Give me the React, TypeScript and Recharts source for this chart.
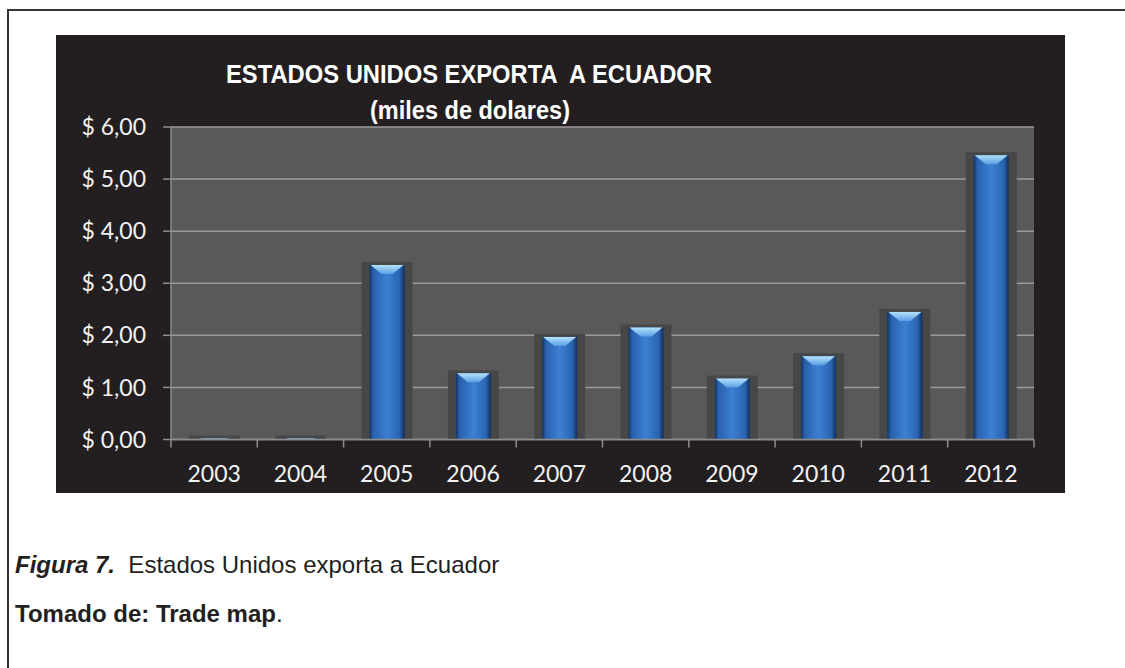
import React from 'react';
import { BarChart, Bar, XAxis, YAxis, CartesianGrid } from 'recharts';

// values (miles de dolares)
const years = ['2003', '2004', '2005', '2006', '2007', '2008', '2009', '2010', '2011', '2012'];
const exportsUS = [0.02, 0.02, 3.35, 1.27, 1.97, 2.15, 1.17, 1.6, 2.45, 5.46];
const yTicks = [0, 1, 2, 3, 4, 5, 6];

const data = years.map((year, i) => ({ year, value: exportsUS[i] }));

const AXIS = '#8e8e8e';
const LABEL_FONT = 'Lato, "Open Sans", sans-serif';

const money = (v: number) => `$ ${v.toFixed(2).replace('.', ',')}`;

// year label plus the tick mark on the left edge of its band (and the right edge for the last one)
function YearTick(props: any) {
  const { x, y, payload, visibleTicksCount } = props;
  const half = payload?.offset ?? 0;
  const last = payload?.index === visibleTicksCount - 1;
  return (
    <g>
      <line x1={x - half} x2={x - half} y1={y} y2={y + 8} stroke={AXIS} strokeWidth={1.5} />
      {last && <line x1={x + half} x2={x + half} y1={y} y2={y + 8} stroke={AXIS} strokeWidth={1.5} />}
      <text x={x} y={y + 42} textAnchor="middle" fill="#f2f2f2" fontSize={23} fontFamily={LABEL_FONT}>
        {payload?.value}
      </text>
    </g>
  );
}

function GlossyBar(props: any) {
  const { x, y, width, height, index } = props;
  if (width == null || height == null) return null;
  const bevel = Math.min(9, height);
  const g = `barGrad${index}`;
  const b = `bevelGrad${index}`;
  return (
    <g>
      <defs>
        <linearGradient id={g} x1="0" y1="0" x2="1" y2="0">
          <stop offset="0" stopColor="#113366" />
          <stop offset="0.1" stopColor="#2960ac" />
          <stop offset="0.5" stopColor="#3c80d4" />
          <stop offset="0.86" stopColor="#2a64b0" />
          <stop offset="1" stopColor="#0f2f5e" />
        </linearGradient>
        <linearGradient id={b} x1="0" y1="0" x2="0" y2="1">
          <stop offset="0" stopColor="#b4e3fc" />
          <stop offset="1" stopColor="#5a9ee3" />
        </linearGradient>
      </defs>
      <rect x={x - 8} y={y - 3} width={width + 16} height={height + 3} fill="#474747" />
      <rect x={x} y={y} width={width} height={height} fill={`url(#${g})`} />
      {bevel > 1 && (
        <polygon
          points={`${x + 1},${y} ${x + width - 1},${y} ${x + width - 12},${y + bevel} ${x + 12},${y + bevel}`}
          fill={`url(#${b})`}
        />
      )}
    </g>
  );
}

export default function App() {
  return (
    <div style={{ position: 'absolute', left: 0, top: 0, width: 1125, height: 668, background: '#fff', overflow: 'hidden' }}>
      {/* page frame */}
      <div style={{ position: 'absolute', left: 7, top: 9, width: 1130, height: 2, background: '#333' }} />
      <div style={{ position: 'absolute', left: 7, top: 9, width: 2, height: 670, background: '#333' }} />

      <div style={{ position: 'absolute', left: 56, top: 35, width: 1009, height: 458, background: '#231f20' }}>
        <BarChart width={1009} height={458} data={data} margin={{ top: 92, right: 31, bottom: 0, left: 0 }} barSize={35}>
          <CartesianGrid vertical={false} horizontal fill="#595959" stroke="#9a9a9a" strokeWidth={1.5} />
          <XAxis
            dataKey="year"
            height={53.5}
            stroke={AXIS}
            strokeWidth={1.5}
            tickLine={false}
            tickSize={0}
            tickMargin={0}
            interval={0}
            tick={<YearTick />}
          />
          <YAxis
            width={115}
            domain={[0, 6]}
            ticks={yTicks}
            tickFormatter={money}
            tickSize={8}
            tickMargin={17}
            stroke={AXIS}
            strokeWidth={1.5}
            tick={{ fill: '#f2f2f2', fontSize: 23, fontFamily: LABEL_FONT }}
          />
          <Bar dataKey="value" shape={<GlossyBar />} isAnimationActive={false} />
        </BarChart>
      </div>

      <svg width={1125} height={668} style={{ position: 'absolute', left: 0, top: 0, pointerEvents: 'none' }}>
        <g fontFamily='"Liberation Sans", Arial, sans-serif' fontWeight="bold" fill="#ffffff" fontSize={25.6}>
          <text x={469} y={83} textAnchor="middle" textLength={486} lengthAdjust="spacingAndGlyphs" style={{ whiteSpace: 'pre' }}>
            ESTADOS UNIDOS EXPORTA  A ECUADOR
          </text>
          <text x={470} y={119} textAnchor="middle" textLength={200} lengthAdjust="spacingAndGlyphs">
            (miles de dolares)
          </text>
        </g>
        <g fontFamily='"Liberation Sans", Arial, sans-serif' fontSize={24} fill="#231f20">
          <text x={15} y={573} style={{ whiteSpace: 'pre' }}>
            <tspan fontWeight="bold" fontStyle="italic">Figura 7.</tspan>
            <tspan>  Estados Unidos exporta a Ecuador</tspan>
          </text>
          <text x={15} y={622}>
            <tspan fontWeight="bold">Tomado de: Trade map</tspan>
            <tspan>.</tspan>
          </text>
        </g>
      </svg>
    </div>
  );
}
